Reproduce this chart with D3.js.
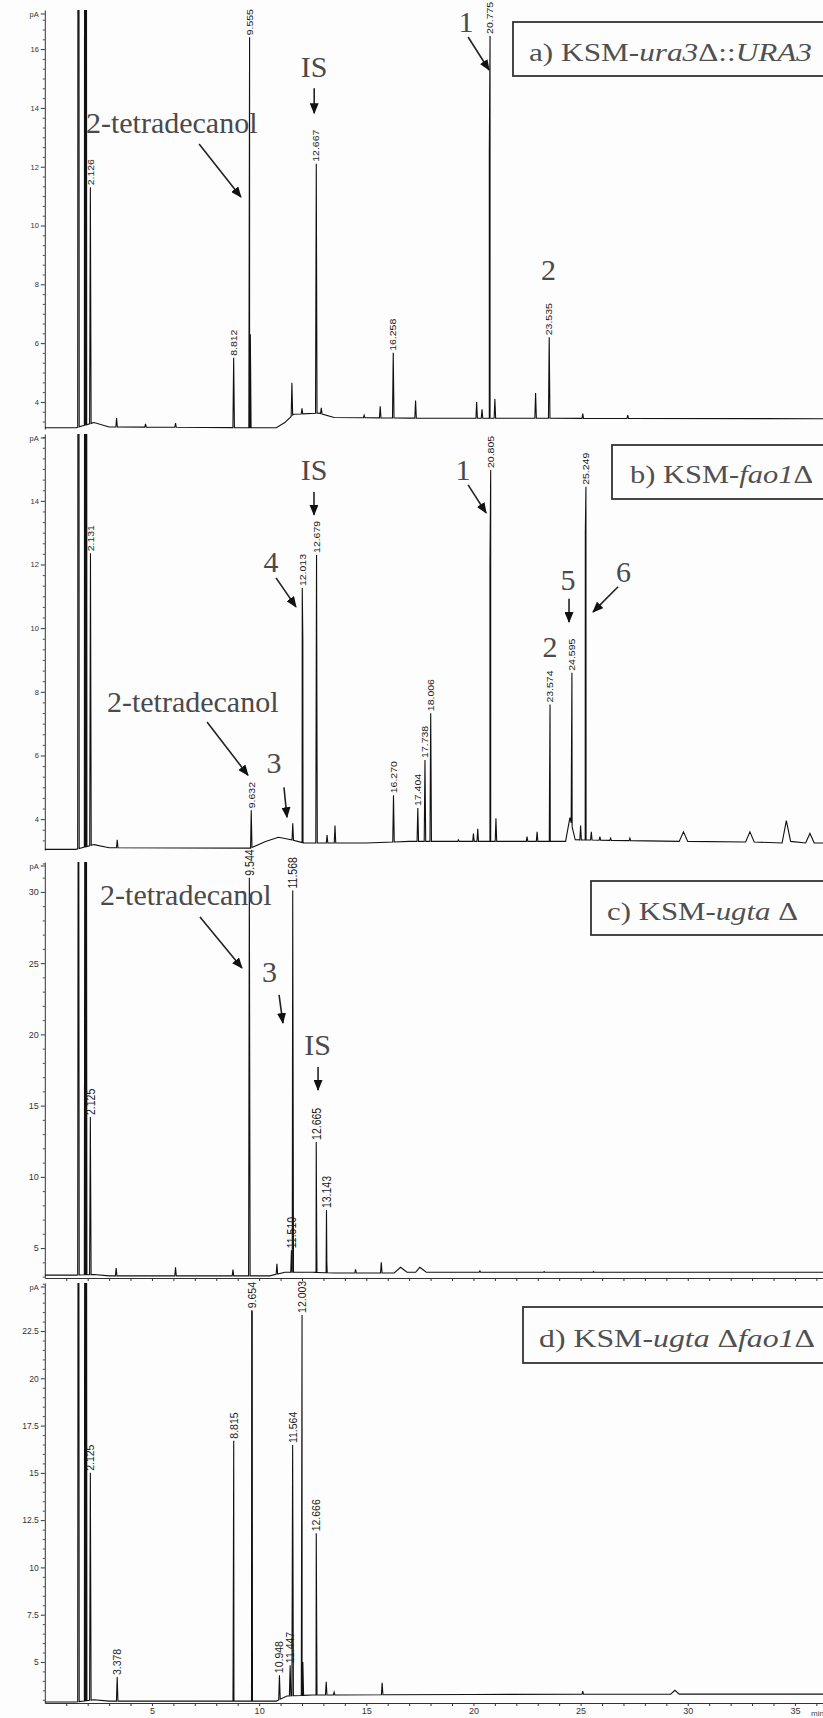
<!DOCTYPE html>
<html>
<head>
<meta charset="utf-8">
<script src="https://cdn.jsdelivr.net/npm/d3@7/dist/d3.min.js"></script>
<style>
  html, body { margin: 0; padding: 0; background: #fdfdfd; }
  svg { display: block; }
</style>
</head>
<body>
<div id="chart"></div>
<script>
// retention time axis (min)
const timeDomain = [0, 36.31];
const timeMajorTicks = [5, 10, 15, 20, 25, 30, 35];

// a) KSM-ura3Δ::URA3
const yDomainA = [3.08, 17.33];
const yTicksA = [4, 6, 8, 10, 12, 14, 16];
const baselineA = [[0, 3.12], [1.45, 3.12], [2.3, 3.3], [3, 3.15], [10.8, 3.12], [11.2, 3.3], [11.6, 3.58], [12.8, 3.62], [13.5, 3.47], [17, 3.45], [36.31, 3.43]];
const peaksA = [
  [1.57, 60, ""], [1.88, 60, ""], [1.92, 60, ""], [2.126, 11.3, "2.126"],
  [3.35, 3.45, ""], [4.7, 3.25, ""], [6.1, 3.28, ""],
  [8.812, 5.5, "8.812"], [9.555, 16.4, "9.555"], [9.59, 6.3, ""],
  [11.53, 4.65, ""], [12.0, 3.78, ""], [12.667, 12.1, "12.667"], [12.9, 3.8, ""],
  [14.9, 3.55, ""], [15.65, 3.85, ""], [16.258, 5.67, "16.258"], [17.3, 4.05, ""],
  [20.15, 4.0, ""], [20.4, 3.75, ""], [20.775, 16.45, "20.775"], [20.74, 12.5, ""], [21.0, 4.1, ""],
  [22.9, 4.3, ""], [23.535, 6.2, "23.535"], [25.1, 3.6, ""], [27.2, 3.55, ""]
];

// b) KSM-fao1Δ
const yDomainB = [3.03, 16.1];
const yTicksB = [4, 6, 8, 10, 12, 14];
const baselineB = [[0, 3.05], [1.45, 3.05], [2.3, 3.2], [3, 3.1], [9.6, 3.09], [10.3, 3.3], [10.9, 3.43], [11.5, 3.35], [12.1, 3.25], [15, 3.25], [17, 3.3], [24.3, 3.3], [24.5, 4.05], [24.75, 3.35], [29.6, 3.3], [29.8, 3.6], [30.0, 3.3], [32.7, 3.28], [32.9, 3.6], [33.1, 3.28], [34.4, 3.25], [34.6, 3.95], [34.8, 3.3], [35.5, 3.25], [35.7, 3.55], [35.9, 3.25], [36.31, 3.25]];
const peaksB = [
  [1.57, 60, ""], [1.88, 60, ""], [1.93, 60, ""], [2.131, 12.35, "2.131"],
  [3.38, 3.35, ""], [9.632, 4.28, "9.632"], [11.57, 3.87, ""],
  [12.013, 11.26, "12.013"], [12.04, 9.6, ""], [12.679, 12.3, "12.679"], [13.17, 3.5, ""], [13.54, 3.8, ""],
  [16.270, 4.75, "16.270"], [17.404, 4.35, "17.404"], [17.738, 5.86, "17.738"], [18.006, 7.33, "18.006"],
  [19.3, 3.35, ""], [20.0, 3.55, ""], [20.2, 3.7, ""], [20.805, 14.97, "20.805"], [20.77, 12.0, ""], [21.05, 4.03, ""],
  [22.5, 3.45, ""], [22.97, 3.6, ""], [23.574, 7.6, "23.574"], [23.55, 5.0, ""],
  [24.595, 8.6, "24.595"], [24.57, 5.5, ""], [25.0, 3.8, ""], [25.249, 14.44, "25.249"], [25.22, 13.0, ""],
  [25.5, 3.6, ""], [25.9, 3.45, ""], [26.4, 3.4, ""], [27.3, 3.4, ""]
];

// c) KSM-ugta Δ
const yDomainC = [2.9, 32.1];
const yTicksC = [5, 10, 15, 20, 25, 30];
const baselineC = [[0, 3.1], [1.45, 3.1], [2.3, 3.15], [3, 3.05], [10.5, 3.05], [11.2, 3.3], [12.5, 3.3], [13.5, 3.25], [16.3, 3.25], [16.6, 3.65], [16.9, 3.3], [17.3, 3.3], [17.5, 3.65], [17.8, 3.3], [36.31, 3.3]];
const peaksC = [
  [1.57, 60, ""], [1.88, 60, ""], [1.93, 60, ""], [2.125, 14.2, "2.125"],
  [3.33, 3.6, ""], [6.1, 3.65, ""], [8.78, 3.5, ""], [9.544, 31.0, "9.544"],
  [10.83, 3.9, ""], [11.510, 4.85, "11.510"], [11.568, 30.1, "11.568"],
  [12.665, 12.45, "12.665"], [12.69, 5.0, ""], [13.143, 7.67, "13.143"], [13.16, 4.0, ""],
  [14.5, 3.5, ""], [15.7, 4.0, ""], [20.3, 3.4, ""], [23.3, 3.35, ""], [25.6, 3.35, ""]
];

// d) KSM-ugta Δfao1Δ
const yDomainD = [2.83, 25.04];
const yTicksD = [5, 7.5, 10, 12.5, 15, 17.5, 20, 22.5];
const baselineD = [[0, 2.88], [1.45, 2.88], [2.3, 3.0], [3, 2.93], [10.8, 2.93], [11.3, 3.2], [12.5, 3.25], [20, 3.28], [29.2, 3.3], [29.4, 3.5], [29.6, 3.3], [36.31, 3.3]];
const peaksD = [
  [1.57, 60, ""], [1.88, 60, ""], [1.93, 60, ""], [2.125, 15.0, "2.125"],
  [3.378, 4.2, "3.378"], [8.815, 16.7, "8.815"], [8.79, 6.0, ""],
  [9.654, 23.6, "9.654"], [9.68, 23.5, ""], [10.948, 4.3, "10.948"], [11.447, 4.83, "11.447"],
  [11.564, 16.47, "11.564"], [12.003, 23.35, "12.003"], [12.04, 5.0, ""],
  [12.666, 11.8, "12.666"], [12.69, 5.9, ""], [13.13, 3.95, ""], [13.5, 3.4, ""], [15.74, 3.9, ""], [25.1, 3.46, ""]
];

// titles: [text, italic]
const titleA = [["a) KSM-", false], ["ura3", true], ["Δ::", false], ["URA3", true]];
const titleB = [["b) KSM-", false], ["fao1", true], ["Δ", false]];
const titleC = [["c) KSM-", false], ["ugta", true], [" Δ", false]];
const titleD = [["d) KSM-", false], ["ugta", true], [" Δ", false], ["fao1", true], ["Δ", false]];

// annotations in data units (time, pA)
const notesA = [
  { text: "IS", t: 12.57, v: 15.05, anchor: "middle", arrow: [12.57, 14.67, 12.57, 13.82] },
  { text: "2-tetradecanol", t: 1.92, v: 13.14, anchor: "start", arrow: [7.2, 12.77, 9.15, 10.97] },
  { text: "1", t: 19.65, v: 16.58, anchor: "middle", arrow: [19.75, 16.41, 20.73, 15.29] },
  { text: "2", t: 23.5, v: 8.15, anchor: "middle" }
];
const notesB = [
  { text: "IS", t: 12.56, v: 14.66, anchor: "middle", arrow: [12.56, 14.28, 12.56, 13.56] },
  { text: "4", t: 10.55, v: 11.77, anchor: "middle", arrow: [10.79, 11.58, 11.72, 10.67] },
  { text: "2-tetradecanol", t: 2.9, v: 7.36, anchor: "start", arrow: [7.57, 7.05, 9.48, 5.38] },
  { text: "3", t: 10.7, v: 5.45, anchor: "middle", arrow: [11.16, 5.0, 11.3, 4.06] },
  { text: "1", t: 19.51, v: 14.66, anchor: "middle", arrow: [19.75, 14.5, 20.59, 13.62] },
  { text: "2", t: 23.57, v: 9.09, anchor: "middle" },
  { text: "5", t: 24.41, v: 11.2, anchor: "middle", arrow: [24.46, 10.92, 24.46, 10.19] },
  { text: "6", t: 27.0, v: 11.45, anchor: "middle", arrow: [26.75, 11.3, 25.58, 10.51] }
];
const notesC = [
  { text: "2-tetradecanol", t: 2.58, v: 29.09, anchor: "start", arrow: [7.24, 28.24, 9.2, 24.66] },
  { text: "3", t: 10.49, v: 23.68, anchor: "middle", arrow: [10.93, 22.77, 11.11, 20.8] },
  { text: "IS", t: 12.73, v: 18.55, anchor: "middle", arrow: [12.75, 17.71, 12.75, 16.1] }
];
const notesD = [];

const W = 823, H = 1718;
const HALF_W = 0.035;

const panels = [
  { id: "a", domain: yDomainA, ticks: yTicksA, minor: 1 / 3, base: baselineA, peaks: peaksA, notes: notesA, title: titleA,
    top: 10, bottom: 429, tickFont: 7.5, labelThick: 0.85, xAxis: "none",
    box: { x: 513, y: 22, h: 54, tx: 529, ty: 61, tl: 283 } },
  { id: "b", domain: yDomainB, ticks: yTicksB, minor: 1 / 3, base: baselineB, peaks: peaksB, notes: notesB, title: titleB,
    top: 434, bottom: 850, tickFont: 7.5, labelThick: 0.9, xAxis: "none",
    box: { x: 612, y: 445, h: 54, tx: 630, ty: 483, tl: 183 } },
  { id: "c", domain: yDomainC, ticks: yTicksC, minor: 1, base: baselineC, peaks: peaksC, notes: notesC, title: titleC,
    top: 862, bottom: 1278, tickFont: 9, labelThick: 1.15, xAxis: "ticks",
    box: { x: 591, y: 881, h: 54, tx: 607, ty: 920, tl: 191 } },
  { id: "d", domain: yDomainD, ticks: yTicksD, minor: 0.5, base: baselineD, peaks: peaksD, notes: notesD, title: titleD,
    top: 1283, bottom: 1703, tickFont: 8.5, labelThick: 1.0, xAxis: "labels",
    box: { x: 523, y: 1307, h: 56, tx: 539, ty: 1347, tl: 276 } }
];

const svg = d3.select("#chart").append("svg")
  .attr("width", W).attr("height", H)
  .style("background", "#fdfdfd");

const defs = svg.append("defs");
defs.append("marker")
  .attr("id", "arrowhead")
  .attr("markerUnits", "userSpaceOnUse")
  .attr("markerWidth", 11).attr("markerHeight", 9)
  .attr("refX", 10).attr("refY", 4.5)
  .attr("orient", "auto")
  .append("path").attr("d", "M0,0 L11,4.5 L0,9 Z").attr("fill", "#111");

const x = d3.scaleLinear().domain(timeDomain).range([44.8, W]);

function traceOf(base, peaks) {
  const bis = d3.bisector(d => d[0]).left;
  const baseAt = t => {
    const i = Math.max(1, Math.min(base.length - 1, bis(base, t)));
    const a = base[i - 1], b = base[i];
    return a[1] + (b[1] - a[1]) * (t - a[0]) / (b[0] - a[0]);
  };
  const pts = base.map(d => [d[0], d[1]]);
  peaks.forEach(([t, h]) => {
    pts.push([t - HALF_W, baseAt(t - HALF_W)], [t, h], [t + HALF_W, baseAt(t + HALF_W)]);
  });
  pts.sort((a, b) => a[0] - b[0]);
  return pts;
}

panels.forEach(p => {
  const y = d3.scaleLinear().domain(p.domain).range([p.bottom, p.top]);
  const g = svg.append("g").attr("class", "panel-" + p.id);

  defs.append("clipPath").attr("id", "clip-" + p.id)
    .append("rect").attr("x", x(0)).attr("y", p.top)
    .attr("width", W - x(0)).attr("height", p.bottom - p.top + 1);

  // x axis (only c and d show one)
  if (p.xAxis !== "none") {
    const xa = g.append("g").attr("transform", `translate(0,${p.bottom})`)
      .call(d3.axisBottom(x).tickValues(d3.range(1, 37, 1)).tickSize(3).tickSizeOuter(0).tickPadding(2)
        .tickFormat(d => (p.xAxis === "labels" && timeMajorTicks.includes(d)) ? String(d) : ""));
    xa.selectAll("line, path").attr("stroke", "#333");
    xa.selectAll("text").attr("font-family", "Liberation Sans, Arial, sans-serif")
      .attr("font-size", 9).attr("fill", "#333");
    if (p.xAxis === "labels") {
      g.append("text").attr("x", 811).attr("y", p.bottom + 13)
        .attr("font-family", "Liberation Sans, Arial, sans-serif").attr("font-size", 8)
        .attr("fill", "#444").text("min");
    }
  }

  // y axis: minor then major ticks
  const minorVals = d3.range(Math.ceil(p.domain[0] / p.minor - 1e-6) * p.minor, p.domain[1], p.minor)
    .filter(v => !p.ticks.some(t => Math.abs(t - v) < 1e-6));
  const ym = g.append("g").attr("transform", `translate(${x(0)},0)`)
    .call(d3.axisLeft(y).tickValues(minorVals).tickSize(2).tickFormat(""));
  ym.select(".domain").remove();
  ym.selectAll("line").attr("stroke", "#444");

  const ya = g.append("g").attr("transform", `translate(${x(0)},0)`)
    .call(d3.axisLeft(y).tickValues(p.ticks).tickSize(4).tickSizeOuter(0).tickPadding(2)
      .tickFormat(d => String(d)));
  ya.selectAll("line, path").attr("stroke", "#333");
  ya.selectAll("text").attr("font-family", "Liberation Sans, Arial, sans-serif")
    .attr("font-size", p.tickFont).attr("fill", "#333");

  g.append("line").attr("x1", x(0) - 4).attr("x2", x(0)).attr("y1", p.top + 4).attr("y2", p.top + 4).attr("stroke", "#333");
  g.append("text").attr("x", x(0) - 6).attr("y", p.top + 4).attr("dy", "0.35em")
    .attr("text-anchor", "end").attr("font-family", "Liberation Sans, Arial, sans-serif")
    .attr("font-size", 7.5).attr("fill", "#333").text("pA");

  // chromatogram trace
  const line = d3.line().x(d => x(d[0])).y(d => y(d[1]));
  g.append("path")
    .datum(traceOf(p.base, p.peaks))
    .attr("clip-path", `url(#clip-${p.id})`)
    .attr("fill", "none").attr("stroke", "#111").attr("stroke-width", 1.1)
    .attr("stroke-linejoin", "miter")
    .attr("d", line);

  // retention time labels
  g.selectAll("text.rt").data(p.peaks.filter(d => d[2])).enter()
    .append("text").attr("class", "rt")
    .attr("transform", d => `translate(${x(d[0])},${y(Math.min(d[1], p.domain[1])) - 2}) rotate(-90) scale(1,${p.labelThick})`)
    .attr("dominant-baseline", "central")
    .attr("font-family", "Liberation Sans, Arial, sans-serif")
    .attr("font-size", 10.5).attr("fill", "#1a1a1a")
    .text(d => d[2]);

  // annotations
  p.notes.forEach(n => {
    g.append("text").attr("x", x(n.t)).attr("y", y(n.v))
      .attr("text-anchor", n.anchor)
      .attr("font-family", "Liberation Serif, Times New Roman, serif")
      .attr("font-size", 30).attr("fill", "#4a4a4a")
      .text(n.text);
    if (n.arrow) {
      g.append("line")
        .attr("x1", x(n.arrow[0])).attr("y1", y(n.arrow[1]))
        .attr("x2", x(n.arrow[2])).attr("y2", y(n.arrow[3]))
        .attr("stroke", "#222").attr("stroke-width", 1.6)
        .attr("marker-end", "url(#arrowhead)");
    }
  });

  // title box
  g.append("rect").attr("x", p.box.x).attr("y", p.box.y)
    .attr("width", W - p.box.x + 20).attr("height", p.box.h)
    .attr("fill", "#fdfdfd").attr("stroke", "#333").attr("stroke-width", 1.8);
  const tt = g.append("text").attr("x", p.box.tx).attr("y", p.box.ty)
    .attr("font-family", "Liberation Serif, Times New Roman, serif")
    .attr("font-size", 25).attr("fill", "#505050")
    .attr("textLength", p.box.tl).attr("lengthAdjust", "spacingAndGlyphs")
    .style("white-space", "pre");
  p.title.forEach(([s, it]) => {
    tt.append("tspan").attr("font-style", it ? "italic" : "normal").text(s);
  });
});
</script>
</body>
</html>
